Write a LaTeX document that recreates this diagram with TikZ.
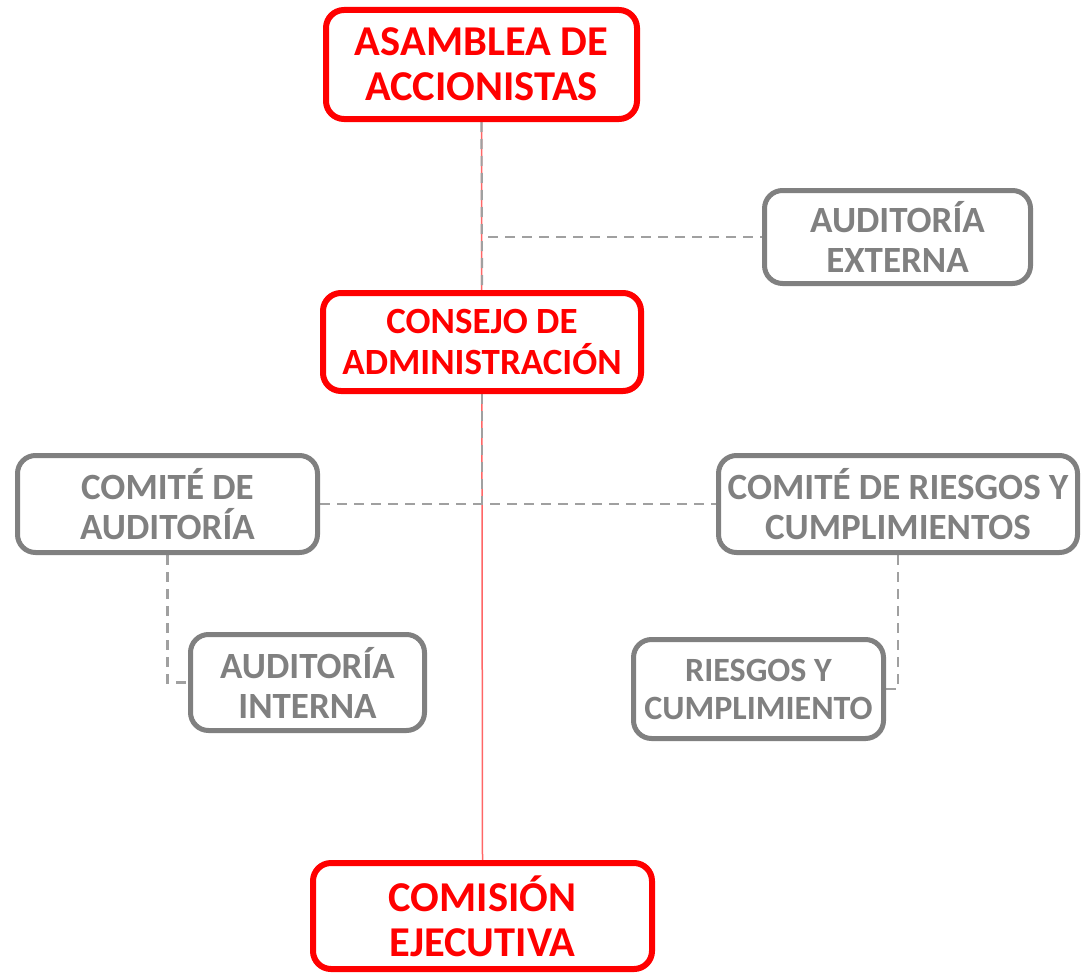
\documentclass[tikz,border=0pt]{standalone}
\usepackage{fontspec}
\setmainfont{Carlito}
\usetikzlibrary{backgrounds}
\definecolor{boxred}{HTML}{FF0000}
\definecolor{linered}{HTML}{FF6666}
\definecolor{boxgray}{HTML}{808080}
\definecolor{dashgray}{HTML}{A0A0A0}
\begin{document}
\begin{tikzpicture}[x=1pt,y=-1pt,
  redbox/.style={draw=boxred,fill=white,line width=6pt,rounded corners=18pt,text=boxred,
    align=center,inner sep=0pt,font=\bfseries\fontsize{42.5}{45}\selectfont},
  graybox/.style={draw=boxgray,fill=white,line width=5pt,rounded corners=18pt,text=boxgray,
    align=center,inner sep=0pt,font=\bfseries\fontsize{37}{40}\selectfont},
  dashline/.style={draw=dashgray,line width=2.2pt,dash pattern=on 10pt off 7pt},
  redline/.style={draw=linered,line width=1.5pt}]
\useasboundingbox (0,0) rectangle (1083,974);
\node[redbox,minimum width=311pt,minimum height=109pt] (asamblea) at (481.5,64.5) {ASAMBLEA DE\\ACCIONISTAS};
\node[graybox,minimum width=266pt,minimum height=93pt] (externa) at (897.5,237) {AUDITORÍA\\EXTERNA};
\node[redbox,font=\bfseries\fontsize{37}{41}\selectfont,minimum width=318pt,minimum height=98pt] (consejo) at (482,342) {CONSEJO DE\\ADMINISTRACIÓN};
\node[graybox,minimum width=300pt,minimum height=97pt] (comaud) at (167.5,504) {COMITÉ DE\\AUDITORÍA};
\node[graybox,minimum width=359pt,minimum height=97pt] (comries) at (898,504) {COMITÉ DE RIESGOS Y\\CUMPLIMIENTOS};
\node[graybox,minimum width=234pt,minimum height=96pt] (interna) at (307.5,682.5) {AUDITORÍA\\INTERNA};
\node[graybox,font=\bfseries\fontsize{34}{38}\selectfont,minimum width=250pt,minimum height=99pt] (riesgos) at (758.5,689) {RIESGOS Y\\CUMPLIMIENTO};
\node[redbox,minimum width=339pt,minimum height=106pt] (comision) at (482.5,916) {COMISIÓN\\EJECUTIVA};
\coordinate (cross) at (482,504);
\coordinate (extstart) at (488,237);
\begin{scope}[on background layer]
\draw[redline] (asamblea.south) -- (comision.north);
\draw[dashline] (asamblea.south) -- (consejo.north);
\draw[dashline] (consejo.south) -- (cross);
\draw[dashline] (extstart) -- (externa.west);
\draw[dashline] (comaud.east) -- (comries.west);
\draw[dashline] (comaud.south) |- (interna.west);
\draw[dashline] (comries.south) |- (riesgos.east);
\end{scope}
\end{tikzpicture}
\end{document}
